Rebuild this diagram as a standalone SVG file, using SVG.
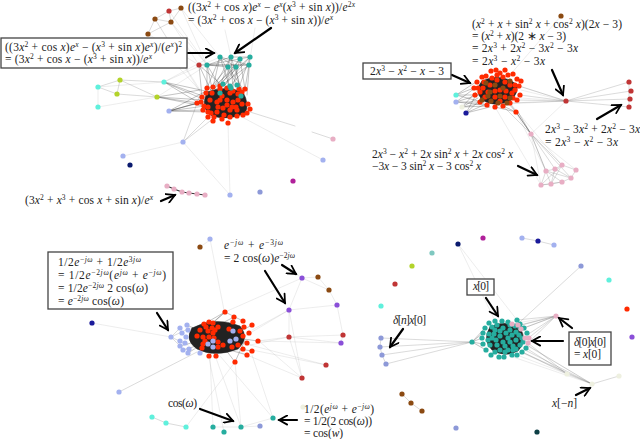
<svg xmlns="http://www.w3.org/2000/svg" width="640" height="439" viewBox="0 0 640 439">
<style>
circle{r:2.6px}
.r{fill:#ff2a00}.t{fill:#26ad9f}.b{fill:#8b4a12}.f{fill:#c03535}.q{fill:#5ff0dc}.y{fill:#b3d32a}.p{fill:#a3b1ef}.d{fill:#8d99d8}.n{fill:#0a1a6e}.m{fill:#b0209a}.k{fill:#e8aec4}.v{fill:#8a4fd8}.w{fill:#eef0e0}.l{fill:#7fc8c0}.h{fill:#0d3f45}
path{fill:none;stroke-linecap:round}
.e1{stroke:#222;stroke-opacity:.45;stroke-width:.6}
.e2{stroke:#666;stroke-opacity:.4;stroke-width:.6}
.e3{stroke:#999;stroke-opacity:.3;stroke-width:.6}
.mesh{fill:#222;stroke:#222;stroke-opacity:.5}
.box{fill:#fff;stroke:#444;stroke-width:1.3}
.arr{stroke:#000;stroke-width:2.2;fill:none}
text{font-family:"Liberation Serif","Times New Roman",serif;font-size:11.5px;fill:#222;white-space:pre}
.i{font-style:italic}
.s{font-size:7.5px;baseline-shift:4px}
</style>
<defs>
<marker id="ah" viewBox="0 0 10 10" refX="8.5" refY="5" markerWidth="5" markerHeight="5" orient="auto" markerUnits="strokeWidth"><path d="M1 0.8L8.5 5L1 9.2" fill="none" stroke="#000" stroke-width="1.6"/></marker>
</defs>
<g id="connectors">
<!-- top left -->
<path class="e2" d="M181 8L169 11M181 8L171 22M169 11L155 19M155 19L171 22M171 22L148 34M155 19L148 34M169 11L171 22M120 80L164 82M120 80L117 94M117 94L157 97M120 80L157 97M98 87L120 80M117 94L98 87M183 142L210 115M183 142L200 95M183 142L214 118M250 112L295 126M312 132L333 139"/>
<path class="e3" d="M181 8L207 65M181 8L220 57M171 22L199 65M171 22L207 65M148 34L199 65M155 19L200 90M169 11L207 65M98 87L98 107M98 107L157 97M98 87L164 82M183 142L123 156M183 142L230 195M228 123L230 195M240 116L323 160M155 19L205 100M148 34L204 95M164 82L205 60M164 82L220 57M157 97L207 65M225 30L231 57M255 28L249 65"/>
<path class="e1" d="M164 82L200 95M164 82L205 100M164 82L210 92M164 82L204 106M157 97L198 103M157 97L204 100M157 97L208 107M157 97L200 90M169 111L197 103M169 111L201 102M169 111L205 106M169 111L210 100M169 111L203 110M169 111L208 90M169 111L208 112M207 65L207 88M207 65L220 86M207 65L213 93M199 65L202 97M199 65L212 93M199 65L225 88M220 57L213 87M220 57L230 88M220 57L207 88M220 57L240 89M231 57L220 86M231 57L233 91M231 57L242 92M231 57L212 90M240 59L220 86M240 59L232 90M240 59L245 89M240 59L210 93M250 57L225 85M250 57L238 90M250 57L247 95M250 57L215 88M249 65L230 86M249 65L245 89M249 65L215 90M236 67L225 85M236 67L240 90M236 67L210 90M228 67L228 85M228 67L210 88M228 67L243 89M207 65L250 57M207 65L249 65M220 57L249 65M231 57L250 57M228 67L236 67M207 65L231 57M220 57L236 67M199 65L249 65M207 65L228 67"/>
<path class="mesh" d="M207 92Q225 85 243 92Q250 105 245 113Q230 121 212 116Q202 110 205 98Z"/>
<path d="M167 186L174 189L182 192L189 193L197 194L205 195" stroke="#333" stroke-width="1.2"/>
<!-- top right -->
<path class="e3" d="M561 16L510 75M566 101L531 134M516 112L546 171M531 134L576 170M531 134L541 185M495 107L541 185M510 103L562 165M521 90L566 101M505 104L566 101M566 101L516 85M566 101L475 95"/>
<path class="e2" d="M566 101L629 82M566 101L631 91M566 101L630 99M566 101L629 107M629 82L629 107M566 101L519 86M566 101L520 95M566 101L517 100M566 101L510 103M531 134L546 171M531 134L555 169M531 134L562 165M531 134L571 178M531 134L551 184M516 112L531 134M503 106L531 134M510 103L531 134M546 171L555 169M555 169L562 165M562 165L576 170M576 170L571 178M571 178L562 182M562 182L551 184M551 184L541 185M541 185L546 171M546 171L562 182M555 169L551 184M562 165L541 185M555 169L571 178M546 171L571 178M541 185L562 182M562 165L551 184"/>
<path class="e1" d="M456 95L476 82M456 95L474 88M456 95L478 95M456 95L482 102M456 102L475 88M456 102L478 95M456 102L482 102M456 102L486 105M462 107L476 92M462 107L478 98M462 107L484 103M462 107L488 106M466 113L476 95M466 113L480 100M466 113L486 104M466 113L490 107M516 112L503 106M516 112L508 103M516 112L495 107M531 134L516 112M531 134L518 112"/>
<path class="mesh" d="M482 81Q500 72 516 84Q520 92 510 101Q495 108 482 100Q474 90 482 81Z"/>
<!-- bottom left -->
<path class="e3" d="M210 239L224 310M200 247L210 240M92 323L171 337M225 312L302 278M302 278L289 310M289 310L289 337M302 278L318 277M318 277L329 290M329 290L337 305M337 305L343 335M343 335L341 343M289 337L302 378M289 310L252 330M289 310L230 345M289 310L302 378M252 350L326 365M258 341L341 343M258 341L289 337M289 337L343 335M289 337L341 343M289 310L337 305M302 278L329 290M302 378L260 342M302 378L235 350M326 365L250 345M235 362L186 427M210 355L213 427M216 358L241 427M220 356L273 418M252 355L273 418M235 362L241 427M209 358L224 432M241 427L273 418M213 427L241 427M241 427L260 426M289 337L250 345M282 265L302 278"/>
<path class="e2" d="M119 392L197 352M171 337L190 328M171 337L188 345M152 417L166 423L186 427M171 337L180 328M171 337L180 346"/>
<path class="e1" d="M225 312L204 324M225 312L213 323M225 312L243 321M225 312L197 336M234 317L197 336M234 317L218 342M252 325L215 345M258 341L215 335M252 351L208 344M247 355L212 345M235 362L222 345M235 362L245 340M216 356L200 335M209 356L225 335M187 325L230 345M180 346L240 330M183 350L232 335M188 353L225 330M243 336L190 340"/>
<path class="mesh" d="M192 328Q215 316 240 326Q250 338 238 349Q215 358 197 349Q184 340 192 328Z"/>
<!-- bottom right -->
<path class="e3" d="M458 244L495 321M458 244L517 320M556 316L512 324M592 384L520 352M592 384L526 345M592 384L510 356M567 374L517 355"/>
<path class="e2" d="M522 238L538 241L554 245M581 266L520 322M402 394L411 403L422 411M592 384L619 376M381 338L472 342M380 347L472 342M382 355L472 342M386 364L472 342M381 338L380 347L382 355L386 364M556 316L517 320M556 316L524 328M556 316L527 335M556 316L522 325M556 316L526 340M556 316L528 343M556 316L521 329M556 316L520 325M592 384L527 345M592 384L525 350M592 384L522 352M567 374L526 348M567 374L522 352M567 374L528 343M567 374L592 384"/>
<path class="e1" d="M472 342L483 333M472 342L483 344M472 342L486 350M472 342L482 338M472 342L485 328"/>
<path class="mesh" d="M490 327Q505 319 520 328Q528 340 518 351Q505 358 492 350Q482 340 490 327Z"/>
</g>
<g id="nodes">
<g id="a1"><circle class="r" cx="207" cy="88"/></g><g id="a2"><circle class="r" cx="213" cy="87"/></g><g id="a3"><circle class="r" cx="220" cy="86"/></g><g id="a4"><circle class="r" cx="220" cy="89"/></g><g id="a5"><circle class="r" cx="227" cy="88"/></g><g id="a6"><circle class="r" cx="233" cy="91"/></g><g id="a7"><circle class="r" cx="239" cy="89"/></g><g id="a8"><circle class="r" cx="245" cy="89"/></g><g id="a9"><circle class="r" cx="242" cy="92"/></g><g id="a10"><circle class="r" cx="202" cy="97"/></g><g id="a11"><circle class="r" cx="201" cy="102"/></g><g id="a12"><circle class="r" cx="197" cy="103"/></g><g id="a13"><circle class="r" cx="204" cy="106"/></g><g id="a14"><circle class="r" cx="203" cy="110"/></g><g id="a15"><circle class="r" cx="208" cy="112"/></g><g id="a16"><circle class="r" cx="208" cy="117"/></g><g id="a17"><circle class="r" cx="214" cy="117"/></g><g id="a18"><circle class="r" cx="213" cy="121"/></g><g id="a19"><circle class="r" cx="222" cy="119"/></g><g id="a20"><circle class="r" cx="228" cy="123"/></g><g id="a21"><circle class="r" cx="230" cy="117"/></g><g id="a22"><circle class="r" cx="237" cy="116"/></g><g id="a23"><circle class="r" cx="243" cy="115"/></g><g id="a24"><circle class="r" cx="247" cy="113"/></g><g id="a25"><circle class="r" cx="250" cy="109"/></g><g id="a26"><circle class="r" cx="248" cy="104"/></g><g id="a27"><circle class="r" cx="242" cy="104"/></g><g id="a28"><circle class="r" cx="237" cy="110"/></g><g id="a29"><circle class="r" cx="230" cy="110"/></g><g id="a30"><circle class="r" cx="224" cy="115"/></g><g id="a31"><circle class="r" cx="217" cy="112"/></g><g id="a32"><circle class="r" cx="218" cy="107"/></g><g id="a33"><circle class="r" cx="217" cy="102"/></g><g id="a34"><circle class="r" cx="220" cy="100"/></g><g id="a35"><circle class="r" cx="227" cy="100"/></g><g id="a36"><circle class="r" cx="233" cy="102"/></g><g id="a37"><circle class="r" cx="238" cy="100"/></g><g id="a38"><circle class="r" cx="227" cy="105"/></g><g id="a39"><circle class="r" cx="223" cy="108"/></g><g id="a40"><circle class="r" cx="232" cy="107"/></g><g id="a41"><circle class="r" cx="210" cy="100"/></g><g id="a42"><circle class="r" cx="208" cy="107"/></g><g id="a43"><circle class="r" cx="212" cy="93"/></g><g id="a44"><circle class="r" cx="230" cy="93"/></g><g id="a45"><circle class="r" cx="236" cy="107"/></g><g id="a46"><circle class="r" cx="211" cy="113"/></g>
<g id="a47"><circle class="r" cx="206" cy="93"/></g><g id="a48"><circle class="r" cx="238" cy="94"/></g><g id="a49"><circle class="r" cx="222" cy="96"/></g>
<g id="a50"><circle class="t" cx="220" cy="57"/></g><g id="a51"><circle class="t" cx="231" cy="57"/></g><g id="a52"><circle class="t" cx="240" cy="59"/></g><g id="a53"><circle class="t" cx="250" cy="57"/></g><g id="a54"><circle class="t" cx="249" cy="65"/></g><g id="a55"><circle class="t" cx="236" cy="67"/></g><g id="a56"><circle class="t" cx="228" cy="67"/></g><g id="a57"><circle class="t" cx="207" cy="65"/></g><g id="a58"><circle class="t" cx="223" cy="84"/></g><g id="a59"><circle class="t" cx="230" cy="86"/></g><g id="a60"><circle class="t" cx="237" cy="85"/></g><g id="a61"><circle class="t" cx="231" cy="88"/></g><g id="a62"><circle class="t" cx="220" cy="93"/></g><g id="a63"><circle class="t" cx="241" cy="96"/></g>
<g id="a64"><circle class="f" cx="199" cy="65"/></g><g id="a65"><circle class="f" cx="169" cy="11"/></g><g id="a66"><circle class="b" cx="181" cy="8"/></g><g id="a67"><circle class="b" cx="155" cy="19"/></g><g id="a68"><circle class="b" cx="171" cy="22"/></g><g id="a69"><circle class="b" cx="148" cy="34"/></g>
<g id="a70"><circle class="q" cx="98" cy="87"/></g><g id="a71"><circle class="q" cx="98" cy="107"/></g><g id="a72"><circle class="q" cx="164" cy="82"/></g><g id="a73"><circle class="y" cx="120" cy="80"/></g><g id="a74"><circle class="y" cx="117" cy="94"/></g><g id="a75"><circle class="y" cx="157" cy="97"/></g>
<g id="a76"><circle class="p" cx="169" cy="111"/></g><g id="a77"><circle class="p" cx="183" cy="142"/></g><g id="a78"><circle class="p" cx="123" cy="156"/></g><g id="a79"><circle class="p" cx="230" cy="195"/></g><g id="a80"><circle class="d" cx="260" cy="192"/></g><g id="a81"><circle class="n" cx="130" cy="165"/></g><g id="a82"><circle class="m" cx="293" cy="181"/></g>
<g id="a83"><circle class="k" cx="167" cy="186"/></g><g id="a84"><circle class="k" cx="174" cy="189"/></g><g id="a85"><circle class="k" cx="182" cy="192"/></g><g id="a86"><circle class="k" cx="189" cy="193"/></g><g id="a87"><circle class="k" cx="197" cy="194"/></g><g id="a88"><circle class="k" cx="205" cy="195"/></g><g id="a89"><circle class="k" cx="333" cy="139"/></g><g id="a90"><circle class="p" cx="323" cy="160"/></g>

<g id="b1"><circle class="r" cx="491" cy="71"/></g><g id="b2"><circle class="r" cx="496" cy="70"/></g><g id="b3"><circle class="r" cx="500" cy="73"/></g><g id="b4"><circle class="r" cx="505" cy="70"/></g><g id="b5"><circle class="r" cx="508" cy="75"/></g><g id="b6"><circle class="r" cx="513" cy="74"/></g><g id="b7"><circle class="r" cx="517" cy="79"/></g><g id="b8"><circle class="r" cx="521" cy="81"/></g><g id="b9"><circle class="r" cx="519" cy="86"/></g><g id="b10"><circle class="r" cx="520" cy="95"/></g><g id="b11"><circle class="r" cx="517" cy="100"/></g><g id="b12"><circle class="r" cx="510" cy="103"/></g><g id="b13"><circle class="r" cx="503" cy="106"/></g><g id="b14"><circle class="r" cx="495" cy="107"/></g><g id="b15"><circle class="r" cx="487" cy="105"/></g><g id="b16"><circle class="r" cx="480" cy="102"/></g><g id="b17"><circle class="r" cx="475" cy="95"/></g><g id="b18"><circle class="r" cx="474" cy="88"/></g><g id="b19"><circle class="r" cx="477" cy="82"/></g><g id="b20"><circle class="r" cx="482" cy="77"/></g><g id="b21"><circle class="r" cx="486" cy="76"/></g><g id="b22"><circle class="r" cx="490" cy="85"/></g><g id="b23"><circle class="r" cx="497" cy="80"/></g><g id="b24"><circle class="r" cx="505" cy="82"/></g><g id="b25"><circle class="r" cx="500" cy="90"/></g><g id="b26"><circle class="r" cx="510" cy="85"/></g><g id="b27"><circle class="r" cx="512" cy="93"/></g><g id="b28"><circle class="r" cx="505" cy="97"/></g><g id="b29"><circle class="r" cx="495" cy="97"/></g><g id="b30"><circle class="r" cx="488" cy="92"/></g><g id="b31"><circle class="r" cx="483" cy="88"/></g><g id="b32"><circle class="r" cx="515" cy="90"/></g><g id="b33"><circle class="r" cx="492" cy="78"/></g><g id="b34"><circle class="r" cx="480" cy="92"/></g><g id="b35"><circle class="r" cx="484" cy="82"/></g><g id="b36"><circle class="r" cx="516" cy="112"/></g>
<g id="b37"><circle class="r" cx="497" cy="75"/></g><g id="b38"><circle class="r" cx="503" cy="77"/></g><g id="b39"><circle class="r" cx="485" cy="97"/></g><g id="b52"><circle class="r" cx="495" cy="91"/></g><g id="b53"><circle class="r" cx="506" cy="91"/></g><g id="b54"><circle class="r" cx="513" cy="98"/></g><g id="b55"><circle class="r" cx="500" cy="101"/></g><g id="b56"><circle class="r" cx="478" cy="88"/></g><g id="b57"><circle class="r" cx="515" cy="85"/></g>
<g id="b40"><circle class="b" cx="495" cy="85"/></g><g id="b41"><circle class="b" cx="488" cy="96"/></g><g id="b42"><circle class="b" cx="482" cy="100"/></g><g id="b43"><circle class="b" cx="491" cy="101"/></g><g id="b44"><circle class="b" cx="500" cy="96"/></g><g id="b45"><circle class="b" cx="498" cy="103"/></g><g id="b46"><circle class="b" cx="510" cy="98"/></g><g id="b47"><circle class="b" cx="510" cy="81"/></g><g id="b48"><circle class="b" cx="503" cy="88"/></g><g id="b49"><circle class="b" cx="486" cy="83"/></g><g id="b50"><circle class="b" cx="507" cy="103"/></g><g id="b51"><circle class="b" cx="490" cy="92"/></g>
<g id="b60"><circle class="b" cx="561" cy="16"/></g><g id="b61"><circle class="q" cx="456" cy="95"/></g><g id="b62"><circle class="p" cx="456" cy="102"/></g><g id="b63"><circle class="w" cx="462" cy="107"/></g><g id="b64"><circle fill="#1a1a9a" cx="466" cy="113"/></g>
<g id="b65"><circle class="f" cx="566" cy="101"/></g><g id="b66"><circle class="f" cx="629" cy="82"/></g><g id="b67"><circle class="f" cx="631" cy="91"/></g><g id="b68"><circle class="f" cx="630" cy="99"/></g><g id="b69"><circle class="f" cx="629" cy="107"/></g><g id="b70"><circle class="k" cx="531" cy="134"/></g>
<g id="b71"><circle class="k" cx="546" cy="171"/></g><g id="b72"><circle class="k" cx="555" cy="169"/></g><g id="b73"><circle class="k" cx="562" cy="165"/></g><g id="b74"><circle class="k" cx="576" cy="170"/></g><g id="b75"><circle class="k" cx="571" cy="178"/></g><g id="b76"><circle class="k" cx="562" cy="182"/></g><g id="b77"><circle class="k" cx="551" cy="184"/></g><g id="b78"><circle class="k" cx="541" cy="185"/></g>

<g id="c1"><circle class="p" cx="171" cy="337"/></g><g id="c2"><circle class="p" cx="180" cy="328"/></g><g id="c3"><circle class="p" cx="187" cy="325"/></g><g id="c4"><circle class="p" cx="182" cy="333"/></g><g id="c5"><circle class="p" cx="186" cy="337"/></g><g id="c6"><circle class="p" cx="180" cy="341"/></g><g id="c7"><circle class="p" cx="185" cy="343"/></g><g id="c8"><circle class="p" cx="180" cy="346"/></g><g id="c9"><circle class="p" cx="189" cy="349"/></g><g id="c10"><circle class="p" cx="183" cy="350"/></g><g id="c11"><circle class="p" cx="188" cy="353"/></g><g id="c12"><circle class="p" cx="200" cy="353"/></g><g id="c13"><circle class="p" cx="188" cy="330"/></g>
<g id="c20"><circle class="r" cx="225" cy="312"/></g><g id="c21"><circle class="r" cx="234" cy="317"/></g><g id="c22"><circle class="r" cx="233" cy="322"/></g><g id="c23"><circle class="r" cx="243" cy="321"/></g><g id="c24"><circle class="r" cx="252" cy="325"/></g><g id="c25"><circle class="r" cx="244" cy="327"/></g><g id="c26"><circle class="r" cx="229" cy="329"/></g><g id="c27"><circle class="r" cx="249" cy="333"/></g><g id="c28"><circle class="r" cx="243" cy="336"/></g><g id="c29"><circle class="r" cx="258" cy="341"/></g><g id="c30"><circle class="r" cx="247" cy="343"/></g><g id="c31"><circle class="r" cx="252" cy="351"/></g><g id="c32"><circle class="r" cx="243" cy="349"/></g><g id="c33"><circle class="r" cx="247" cy="355"/></g><g id="c34"><circle class="r" cx="235" cy="362"/></g><g id="c35"><circle class="r" cx="216" cy="356"/></g><g id="c36"><circle class="r" cx="209" cy="356"/></g><g id="c37"><circle class="r" cx="218" cy="347"/></g><g id="c38"><circle class="r" cx="203" cy="344"/></g><g id="c39"><circle class="r" cx="197" cy="336"/></g><g id="c40"><circle class="r" cx="200" cy="330"/></g><g id="c41"><circle class="r" cx="204" cy="324"/></g><g id="c42"><circle class="r" cx="209" cy="322"/></g><g id="c43"><circle class="r" cx="213" cy="323"/></g><g id="c44"><circle class="r" cx="218" cy="327"/></g><g id="c45"><circle class="r" cx="215" cy="330"/></g><g id="c46"><circle class="r" cx="208" cy="331"/></g><g id="c47"><circle class="r" cx="203" cy="337"/></g><g id="c48"><circle class="r" cx="213" cy="333"/></g><g id="c49"><circle class="r" cx="209" cy="337"/></g><g id="c50"><circle class="r" cx="218" cy="342"/></g><g id="c51"><circle class="r" cx="202" cy="348"/></g><g id="c52"><circle class="r" cx="232" cy="347"/></g><g id="c53"><circle class="r" cx="223" cy="345"/></g>
<g id="c54"><circle class="r" cx="206" cy="327"/></g><g id="c55"><circle class="r" cx="212" cy="328"/></g><g id="c56"><circle class="r" cx="205" cy="341"/></g><g id="c57"><circle class="r" cx="214" cy="338"/></g><g id="c58"><circle class="r" cx="240" cy="331"/></g><g id="c59"><circle class="r" cx="238" cy="345"/></g>
<g id="c14"><circle class="p" cx="208" cy="344"/></g><g id="c15"><circle class="p" cx="213" cy="341"/></g><g id="c16"><circle class="p" cx="213" cy="347"/></g><g id="c17"><circle class="p" cx="230" cy="341"/></g><g id="c18"><circle class="p" cx="233" cy="331"/></g><g id="c19"><circle class="p" cx="236" cy="339"/></g>
<g id="c60"><circle class="p" cx="210" cy="239"/></g><g id="c61"><circle class="b" cx="200" cy="247"/></g><g id="c62"><circle class="v" cx="302" cy="278"/></g><g id="c63"><circle class="v" cx="289" cy="310"/></g><g id="c64"><circle class="f" cx="289" cy="337"/></g><g id="c65"><circle class="f" cx="302" cy="378"/></g><g id="c66"><circle class="b" cx="318" cy="277"/></g><g id="c67"><circle fill="#1a1a9a" cx="92" cy="323"/></g><g id="c68"><circle class="p" cx="119" cy="392"/></g><g id="c69"><circle class="q" cx="152" cy="417"/></g><g id="c70"><circle class="q" cx="166" cy="423"/></g><g id="c71"><circle class="q" cx="186" cy="427"/></g><g id="c72"><circle class="t" cx="213" cy="427"/></g><g id="c73"><circle class="t" cx="224" cy="432"/></g><g id="c74"><circle class="t" cx="241" cy="427"/></g><g id="c75"><circle class="t" cx="273" cy="418"/></g><g id="c76"><circle class="d" cx="260" cy="426"/></g><g id="c77"><circle class="w" cx="303" cy="407"/></g><g id="c78"><circle class="b" cx="329" cy="290"/></g><g id="c79"><circle class="v" cx="337" cy="305"/></g><g id="c80"><circle class="f" cx="343" cy="335"/></g><g id="c81"><circle class="v" cx="341" cy="343"/></g><g id="c82"><circle class="f" cx="326" cy="365"/></g>

<g id="d1"><circle class="n" cx="458" cy="244"/></g><g id="d2"><circle class="m" cx="483" cy="238"/></g><g id="d3"><circle class="p" cx="522" cy="238"/></g><g id="d4"><circle fill="#1a1a9a" cx="538" cy="241"/></g><g id="d5"><circle class="p" cx="554" cy="245"/></g><g id="d6"><circle class="d" cx="581" cy="266"/></g><g id="d7"><circle class="l" cx="432" cy="253"/></g><g id="d8"><circle class="y" cx="412" cy="266"/></g><g id="d9"><circle class="f" cx="395" cy="284"/></g><g id="d10"><circle class="q" cx="381" cy="306"/></g><g id="d11"><circle class="q" cx="609" cy="280"/></g><g id="d12"><circle class="r" cx="627" cy="309"/></g><g id="d13"><circle class="v" cx="632" cy="337"/></g><g id="d14"><circle class="d" cx="381" cy="338"/></g><g id="d15"><circle class="d" cx="380" cy="347"/></g><g id="d16"><circle class="d" cx="382" cy="355"/></g><g id="d17"><circle class="d" cx="386" cy="364"/></g><g id="d18"><circle class="t" cx="472" cy="342"/></g><g id="d19"><circle class="k" cx="556" cy="316"/></g><g id="d20"><circle class="w" cx="567" cy="374"/></g><g id="d21"><circle class="w" cx="592" cy="384"/></g><g id="d22"><circle class="w" cx="619" cy="376"/></g><g id="d23"><circle class="b" cx="402" cy="394"/></g><g id="d24"><circle class="b" cx="411" cy="403"/></g><g id="d25"><circle class="b" cx="422" cy="411"/></g><g id="d26"><circle class="d" cx="456" cy="428"/></g><g id="d27"><circle class="h" cx="537" cy="432"/></g>
<g id="d30"><circle class="t" cx="495" cy="321"/></g><g id="d31"><circle class="t" cx="502" cy="321"/></g><g id="d32"><circle class="t" cx="508" cy="322"/></g><g id="d33"><circle class="t" cx="517" cy="320"/></g><g id="d34"><circle class="t" cx="489" cy="323"/></g><g id="d35"><circle class="t" cx="485" cy="328"/></g><g id="d36"><circle class="t" cx="483" cy="333"/></g><g id="d37"><circle class="t" cx="482" cy="338"/></g><g id="d38"><circle class="t" cx="483" cy="344"/></g><g id="d39"><circle class="t" cx="486" cy="350"/></g><g id="d40"><circle class="t" cx="491" cy="355"/></g><g id="d41"><circle class="t" cx="499" cy="357"/></g><g id="d42"><circle class="t" cx="504" cy="357"/></g><g id="d43"><circle class="t" cx="512" cy="355"/></g><g id="d44"><circle class="t" cx="517" cy="355"/></g><g id="d45"><circle class="t" cx="522" cy="352"/></g><g id="d46"><circle class="t" cx="526" cy="348"/></g><g id="d47"><circle class="t" cx="527" cy="333"/></g><g id="d48"><circle class="t" cx="524" cy="328"/></g><g id="d49"><circle class="t" cx="520" cy="324"/></g><g id="d50"><circle class="t" cx="495" cy="330"/></g><g id="d51"><circle class="t" cx="503" cy="328"/></g><g id="d52"><circle class="t" cx="510" cy="330"/></g><g id="d53"><circle class="t" cx="516" cy="332"/></g><g id="d54"><circle class="t" cx="492" cy="338"/></g><g id="d55"><circle class="t" cx="500" cy="336"/></g><g id="d56"><circle class="t" cx="508" cy="338"/></g><g id="d57"><circle class="t" cx="516" cy="340"/></g><g id="d58"><circle class="t" cx="522" cy="338"/></g><g id="d59"><circle class="t" cx="497" cy="345"/></g><g id="d60"><circle class="t" cx="505" cy="346"/></g><g id="d61"><circle class="t" cx="513" cy="346"/></g><g id="d62"><circle class="t" cx="520" cy="345"/></g><g id="d63"><circle class="t" cx="490" cy="345"/></g><g id="d64"><circle class="t" cx="495" cy="352"/></g><g id="d65"><circle class="t" cx="505" cy="352"/></g><g id="d66"><circle class="t" cx="513" cy="350"/></g><g id="d67"><circle class="t" cx="489" cy="334"/></g><g id="d68"><circle class="t" cx="520" cy="328"/></g><g id="d69"><circle class="t" cx="503" cy="342"/></g><g id="d70"><circle class="t" cx="497" cy="325"/></g><g id="d71"><circle class="t" cx="510" cy="325"/></g><g id="d72"><circle class="t" cx="510" cy="342"/></g><g id="d73"><circle class="t" cx="488" cy="340"/></g><g id="d74"><circle class="t" cx="496" cy="340"/></g>
<g id="d75"><circle class="t" cx="500" cy="331"/></g><g id="d76"><circle class="t" cx="506" cy="333"/></g><g id="d77"><circle class="t" cx="512" cy="335"/></g><g id="d78"><circle class="t" cx="519" cy="335"/></g><g id="d79"><circle class="t" cx="494" cy="334"/></g><g id="d86"><circle class="t" cx="500" cy="350"/></g><g id="d87"><circle class="t" cx="508" cy="350"/></g><g id="d88"><circle class="t" cx="516" cy="349"/></g><g id="d89"><circle class="t" cx="523" cy="342"/></g><g id="d90"><circle class="t" cx="492" cy="327"/></g><g id="d91"><circle class="t" cx="515" cy="326"/></g>
<g id="d80"><circle class="k" cx="512" cy="324"/></g><g id="d81"><circle class="k" cx="518" cy="325"/></g><g id="d82"><circle class="k" cx="521" cy="329"/></g><g id="d83"><circle class="k" cx="525" cy="338"/></g><g id="d84"><circle class="k" cx="529" cy="338"/></g><g id="d85"><circle class="k" cx="528" cy="343"/></g>
</g>
<g id="arrows">
<path class="arr" marker-end="url(#ah)" d="M187 53L214 53"/>
<path class="arr" marker-end="url(#ah)" d="M271 28L235 53"/>
<path class="arr" marker-end="url(#ah)" d="M161 201L175 195"/>
<path class="arr" marker-end="url(#ah)" d="M452 75L470 83"/>
<path class="arr" marker-end="url(#ah)" d="M552 70L563 95"/>
<path class="arr" marker-end="url(#ah)" d="M597 119L621 105"/>
<path class="arr" marker-end="url(#ah)" d="M518 166L537 175"/>
<path class="arr" marker-end="url(#ah)" d="M157 313L168 330"/>
<path class="arr" marker-end="url(#ah)" d="M282 265L296 274"/>
<path class="arr" marker-end="url(#ah)" d="M265 271L285 303"/>
<path class="arr" marker-end="url(#ah)" d="M200 409L233 421"/>
<path class="arr" marker-end="url(#ah)" d="M297 420L279 420"/>
<path class="arr" marker-end="url(#ah)" d="M486 298L498 316"/>
<path class="arr" marker-end="url(#ah)" d="M403 329L390 347"/>
<path class="arr" marker-end="url(#ah)" d="M572 328L559 318"/>
<path class="arr" marker-end="url(#ah)" d="M563 341L532 341"/>
<path class="arr" marker-end="url(#ah)" d="M576 395L590 388"/>
</g>
<g id="labels">
<rect class="box" x="1" y="38" width="186" height="30"/>
<rect class="box" x="363" y="63" width="88" height="16"/>
<rect class="box" x="48" y="252" width="125" height="57"/>
<rect class="box" x="467" y="279" width="27" height="16"/>
<rect class="box" x="569" y="332" width="42" height="33"/>

<text x="188" y="11" textLength="167">((3<tspan class="i">x</tspan><tspan class="s">2</tspan> + cos <tspan class="i">x</tspan>)<tspan class="i">e</tspan><tspan class="s i">x</tspan> − <tspan class="i">e</tspan><tspan class="s i">x</tspan>(<tspan class="i">x</tspan><tspan class="s">3</tspan> + sin <tspan class="i">x</tspan>))/<tspan class="i">e</tspan><tspan class="s">2<tspan class="i">x</tspan></tspan></text>
<text x="188" y="24" textLength="145">= (3<tspan class="i">x</tspan><tspan class="s">2</tspan> + cos <tspan class="i">x</tspan> − (<tspan class="i">x</tspan><tspan class="s">3</tspan> + sin <tspan class="i">x</tspan>))/<tspan class="i">e</tspan><tspan class="s i">x</tspan></text>
<text x="5" y="51" textLength="177">((3<tspan class="i">x</tspan><tspan class="s">2</tspan> + cos <tspan class="i">x</tspan>)<tspan class="i">e</tspan><tspan class="s i">x</tspan> − (<tspan class="i">x</tspan><tspan class="s">3</tspan> + sin <tspan class="i">x</tspan>)<tspan class="i">e</tspan><tspan class="s i">x</tspan>)/(<tspan class="i">e</tspan><tspan class="s i">x</tspan>)<tspan class="s">2</tspan></text>
<text x="5" y="63" textLength="147">= (3<tspan class="i">x</tspan><tspan class="s">2</tspan> + cos <tspan class="i">x</tspan> − (<tspan class="i">x</tspan><tspan class="s">3</tspan> + sin <tspan class="i">x</tspan>))/<tspan class="i">e</tspan><tspan class="s i">x</tspan></text>
<text x="25" y="204" textLength="128">(3<tspan class="i">x</tspan><tspan class="s">2</tspan> + <tspan class="i">x</tspan><tspan class="s">3</tspan> + cos <tspan class="i">x</tspan> + sin <tspan class="i">x</tspan>)/<tspan class="i">e</tspan><tspan class="s i">x</tspan></text>

<text x="472" y="28" textLength="150">(<tspan class="i">x</tspan><tspan class="s">2</tspan> + <tspan class="i">x</tspan> + sin<tspan class="s">2</tspan> <tspan class="i">x</tspan> + cos<tspan class="s">2</tspan> <tspan class="i">x</tspan>)(2<tspan class="i">x</tspan> − 3)</text>
<text x="472" y="40" textLength="94">= (<tspan class="i">x</tspan><tspan class="s">2</tspan> + <tspan class="i">x</tspan>)(2 ∗ <tspan class="i">x</tspan> − 3)</text>
<text x="472" y="52" textLength="106">= 2<tspan class="i">x</tspan><tspan class="s">3</tspan> + 2<tspan class="i">x</tspan><tspan class="s">2</tspan> − 3<tspan class="i">x</tspan><tspan class="s">2</tspan> − 3<tspan class="i">x</tspan></text>
<text x="472" y="65" textLength="73">= 2<tspan class="i">x</tspan><tspan class="s">3</tspan> − <tspan class="i">x</tspan><tspan class="s">2</tspan> − 3<tspan class="i">x</tspan></text>
<text x="370" y="75" textLength="74">2<tspan class="i">x</tspan><tspan class="s">3</tspan> − <tspan class="i">x</tspan><tspan class="s">2</tspan> − <tspan class="i">x</tspan> − 3</text>
<text x="545" y="133" textLength="95">2<tspan class="i">x</tspan><tspan class="s">3</tspan> − 3<tspan class="i">x</tspan><tspan class="s">2</tspan> + 2<tspan class="i">x</tspan><tspan class="s">2</tspan> − 3<tspan class="i">x</tspan></text>
<text x="545" y="146" textLength="73">= 2<tspan class="i">x</tspan><tspan class="s">3</tspan> − <tspan class="i">x</tspan><tspan class="s">2</tspan> − 3<tspan class="i">x</tspan></text>
<text x="372" y="158" textLength="141">2<tspan class="i">x</tspan><tspan class="s">3</tspan> − <tspan class="i">x</tspan><tspan class="s">2</tspan> + 2<tspan class="i">x</tspan> sin<tspan class="s">2</tspan> <tspan class="i">x</tspan> + 2<tspan class="i">x</tspan> cos<tspan class="s">2</tspan> <tspan class="i">x</tspan></text>
<text x="372" y="170" textLength="109">−3<tspan class="i">x</tspan> − 3 sin<tspan class="s">2</tspan> <tspan class="i">x</tspan> − 3 cos<tspan class="s">2</tspan> <tspan class="i">x</tspan></text>

<text x="58" y="266" textLength="83">1/2<tspan class="i">e</tspan><tspan class="s">−<tspan class="i">jω</tspan></tspan> + 1/2<tspan class="i">e</tspan><tspan class="s">3<tspan class="i">jω</tspan></tspan></text>
<text x="58" y="279" textLength="108">= 1/2<tspan class="i">e</tspan><tspan class="s">−2<tspan class="i">jω</tspan></tspan>(<tspan class="i">e</tspan><tspan class="s i">jω</tspan> + <tspan class="i">e</tspan><tspan class="s">−<tspan class="i">jω</tspan></tspan>)</text>
<text x="58" y="292" textLength="90">= 1/2<tspan class="i">e</tspan><tspan class="s">−2<tspan class="i">jω</tspan></tspan> 2 cos(<tspan class="i">ω</tspan>)</text>
<text x="58" y="305" textLength="66">= <tspan class="i">e</tspan><tspan class="s">−2<tspan class="i">jω</tspan></tspan> cos(<tspan class="i">ω</tspan>)</text>
<text x="224" y="249" textLength="59"><tspan class="i">e</tspan><tspan class="s">−<tspan class="i">jω</tspan></tspan> + <tspan class="i">e</tspan><tspan class="s">−3<tspan class="i">jω</tspan></tspan></text>
<text x="224" y="262" textLength="71">= 2 cos(<tspan class="i">ω</tspan>)<tspan class="i">e</tspan><tspan class="s">−2<tspan class="i">jω</tspan></tspan></text>
<text x="168" y="407" textLength="29">cos(<tspan class="i">ω</tspan>)</text>
<text x="304" y="413" textLength="70">1/2(<tspan class="i">e</tspan><tspan class="s i">jω</tspan> + <tspan class="i">e</tspan><tspan class="s">−<tspan class="i">jω</tspan></tspan>)</text>
<text x="304" y="425" textLength="68">= 1/2(2 cos(<tspan class="i">ω</tspan>))</text>
<text x="304" y="437" textLength="39">= cos(<tspan class="i">w</tspan>)</text>

<text x="473" y="290" textLength="16"><tspan class="i">x</tspan>[0]</text>
<text x="393" y="324" textLength="33"><tspan class="i">δ</tspan>[<tspan class="i">n</tspan>]<tspan class="i">x</tspan>[0]</text>
<text x="574" y="346" textLength="32"><tspan class="i">δ</tspan>[0]<tspan class="i">x</tspan>[0]</text>
<text x="574" y="358" textLength="27">= <tspan class="i">x</tspan>[0]</text>
<text x="552" y="407" textLength="25"><tspan class="i">x</tspan>[−<tspan class="i">n</tspan>]</text>
</g>
</svg>
